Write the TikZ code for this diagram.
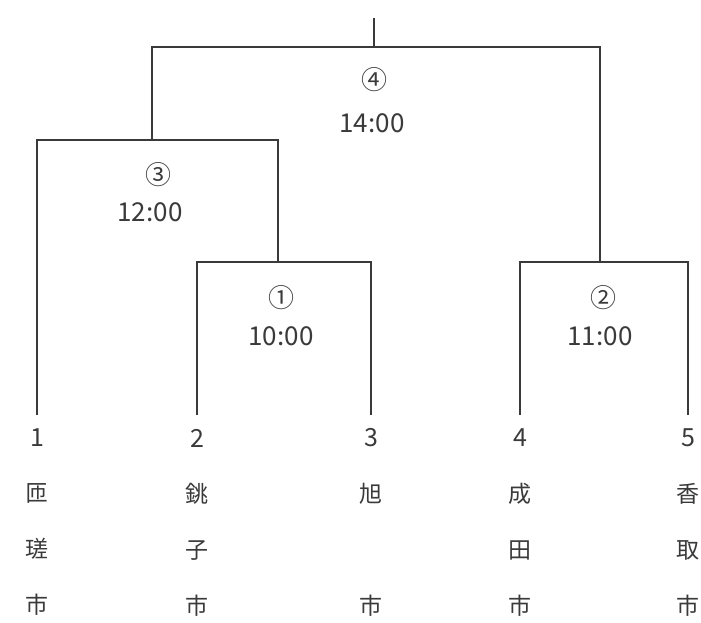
\documentclass[tikz,border=0pt]{standalone}
\usepackage{fontspec}
\setmainfont{Noto Sans CJK JP}
\usetikzlibrary{positioning}

\definecolor{inkgray}{HTML}{3A3A3A}

\tikzset{
  bracket/.style={draw=inkgray, line width=1.7pt},
  teamno/.style={text=inkgray, inner sep=0pt, font=\fontsize{25}{30}\selectfont},
  teamname/.style={text=inkgray, inner sep=0pt, align=center, anchor=north,
                   font=\fontsize{23}{56}\selectfont},
  gameno/.style={text=inkgray, inner sep=0pt, font=\fontsize{26}{30}\selectfont},
  gametime/.style={text=inkgray, inner sep=0pt, font=\fontsize{26}{30}\selectfont},
}

\begin{document}
\begin{tikzpicture}[x=1pt,y=-1pt]
            \useasboundingbox (0,0) rectangle (701,623);

            % leaf ends
            \coordinate (t1) at (37,415);
            \coordinate (t2) at (197,415);
            \coordinate (t3) at (371,415);
            \coordinate (t4) at (520,415);
            \coordinate (t5) at (688,415);

            % match points
            \coordinate (m1) at (278,262);
            \coordinate (m2) at (600,262);
            \coordinate (m3) at (152,140);
            \coordinate (m4) at (374,47);
            \coordinate (top) at (374,18);

            % teams
            \node[teamno] (n1) at (37,438) {1};
            \node[teamno] (n2) at (197,438) {2};
            \node[teamno] (n3) at (371,438) {3};
            \node[teamno] (n4) at (520,438) {4};
            \node[teamno] (n5) at (688,438) {5};

            \node[teamname] (c1) at (37,483) {匝\\瑳\\市};
            \node[teamname] (c2) at (197,483) {銚\\子\\市};
            \node[teamname] (c3) at (371,483) {旭\\\mbox{}\\市};
            \node[teamname] (c4) at (520,483) {成\\田\\市};
            \node[teamname] (c5) at (688,483) {香\\取\\市};

            % games
            \node[gameno] (g1) at (281,298) {①};
            \node[gametime, below=16pt of g1] (h1) {10:00};
            \node[gameno] (g2) at (603,298) {②};
            \node[gametime, below=16pt of g2, xshift=-3pt] (h2) {11:00};
            \node[gameno] (g3) at (158,175) {③};
            \node[gametime, below=15pt of g3, xshift=-8pt] (h3) {12:00};
            \node[gameno] (g4) at (374,80) {④};
            \node[gametime, below=21pt of g4, xshift=-2pt] (h4) {14:00};

            % bracket
            \draw[bracket] (t2) |- (m1) -| (t3);
            \draw[bracket] (t4) |- (m2) -| (t5);
            \draw[bracket] (t1) |- (m3) -| (m1);
            \draw[bracket] (m3) |- (m4) -| (m2);
            \draw[bracket] (m4) -- (top);
        \end{tikzpicture}
\end{document}
